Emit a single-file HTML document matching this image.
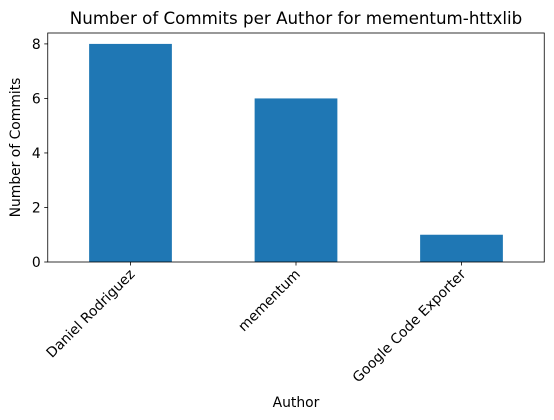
<!DOCTYPE html>
<html><head><meta charset="utf-8"><style>
body{margin:0;background:#fff;}
svg{display:block;font-family:"DejaVu Sans","Liberation Sans",sans-serif;}
</style></head><body>
<svg id="chart" width="554" height="420" viewBox="0 0 554 420"></svg>
<script>
const categories = ["Daniel Rodriguez", "mementum", "Google Code Exporter"];
const commitCounts = [8, 6, 1];
const yTickValues = [0, 2, 4, 6, 8];

const NS = "http://www.w3.org/2000/svg";
const svg = document.getElementById("chart");
const L = 47.75, R = 544.25, T = 33, B = 262;
const yMax = 8.4;
const yScale = v => B - v / yMax * (B - T);
const band = (R - L) / categories.length;
const xCenter = i => L + band * (i + 0.5);
function mk(tag, attrs, parent) {
  const e = document.createElementNS(NS, tag);
  for (const k in attrs) e.setAttribute(k, attrs[k]);
  (parent || svg).appendChild(e);
  return e;
}

commitCounts.forEach((v, i) => {
  const r = mk("rect", {x: xCenter(i) - band / 4, y: yScale(v), width: band / 2, height: B - yScale(v), fill: "#1f77b4"});
  
  
});

const frame = mk("rect", {x: L, y: T, width: R - L, height: B - T, fill: "none", stroke: "#000", "stroke-width": 0.8});



yTickValues.forEach(v => {
  const y = yScale(v);
  mk("line", {x1: L - 3.5, x2: L, y1: y, y2: y, stroke: "#000", "stroke-width": 0.8});
  const t = mk("text", {x: L - 7, y: y + 5, "text-anchor": "end", "font-size": 13.9});
  t.textContent = v;
  
  
});

categories.forEach((c, i) => {
  const x = xCenter(i);
  mk("line", {x1: x, x2: x, y1: B, y2: B + 3.5, stroke: "#000", "stroke-width": 0.8});
  const t = mk("text", {x: x + 5, y: B + 13, "text-anchor": "end", "font-size": 13.9, transform: `rotate(-45 ${x + 5} ${B + 13})`});
  t.textContent = c;
  
  
});

const title = mk("text", {x: (L + R) / 2, y: 24, "text-anchor": "middle", "font-size": 16.7});
title.textContent = "Number of Commits per Author for mementum-httxlib";



const yl = mk("text", {x: 20, y: (T + B) / 2, "text-anchor": "middle", "font-size": 13.9, transform: `rotate(-90 20 ${(T + B) / 2})`});
yl.textContent = "Number of Commits";



const xl = mk("text", {x: (L + R) / 2, y: 407, "text-anchor": "middle", "font-size": 13.9});
xl.textContent = "Author";


</script>
</body></html>
